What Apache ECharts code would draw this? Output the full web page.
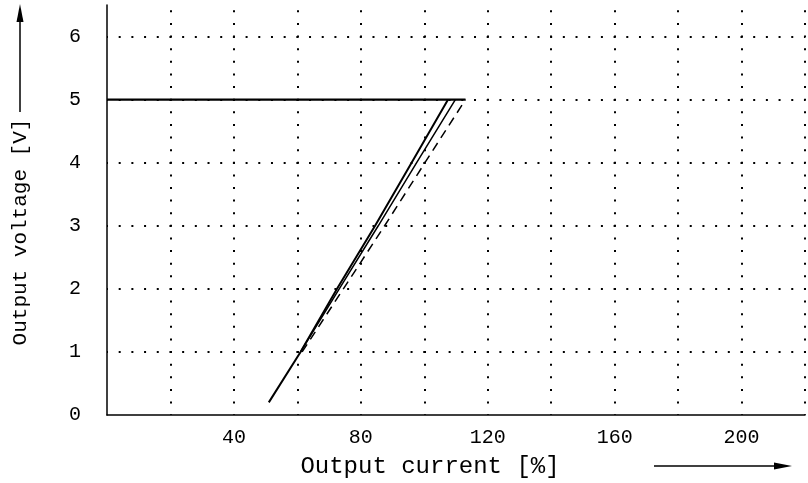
<!DOCTYPE html>
<html>
<head>
<meta charset="utf-8">
<script src="https://cdn.jsdelivr.net/npm/echarts@6/dist/echarts.min.js"></script>
<style>
  html, body { margin: 0; padding: 0; background: #fff; }
  #chart { width: 808px; height: 483px; }
</style>
</head>
<body>
<div id="chart"></div>
<script>
// current limiting curves, [current %, voltage V]
const plateau = [[0, 5], [113, 5]];
const curveA = [[51, 0.2], [61, 1], [72.5, 2], [84.5, 3], [96, 4], [107.5, 5]];
const curveB = [[61, 1], [73.2, 2], [85.5, 3], [97.6, 4], [109.8, 5]];
const curveDashed = [[61.5, 1], [74.5, 2], [87.5, 3], [100.2, 4], [113, 5]];

const xLabels = [40, 80, 120, 160, 200];
const yLabels = [0, 1, 2, 3, 4, 5, 6];

const font = 'Liberation Mono';
const chart = echarts.init(document.getElementById('chart'));

function lineSeries(data, width, type) {
  return {
    type: 'line',
    data: data,
    showSymbol: false,
    animation: false,
    lineStyle: { color: '#000', width: width, type: type || 'solid' }
  };
}

chart.setOption({
  animation: false,
  grid: {
    left: 107,
    right: 3,
    top: 5,
    bottom: 68,
    outerBoundsMode: 'none'
  },
  xAxis: {
    type: 'value',
    min: 0,
    max: 220,
    interval: 20,
    name: 'Output current [%]',
    nameLocation: 'middle',
    nameGap: 40,
    nameTextStyle: { fontFamily: font, fontSize: 24, color: '#000', padding: [0, 52, 0, 0] },
    axisLine: { lineStyle: { color: '#000', width: 1.5 } },
    axisTick: { show: false },
    axisLabel: {
      fontFamily: font,
      fontSize: 20,
      color: '#000',
      margin: 13,
      formatter: v => xLabels.includes(v) ? String(v) : ''
    },
    splitLine: {
      show: true,
      showMinLine: false,
      lineStyle: { color: '#000', width: 2, type: [2, 10.62], dashOffset: 7.3 }
    }
  },
  yAxis: {
    type: 'value',
    min: 0,
    max: 6.5,
    interval: 1,
    name: 'Output voltage [V]',
    nameLocation: 'middle',
    nameGap: 76,
    nameTextStyle: { fontFamily: font, fontSize: 21, color: '#000', padding: [0, 44, 0, 0] },
    axisLine: { lineStyle: { color: '#000', width: 1.5 } },
    axisTick: { show: false },
    axisLabel: {
      fontFamily: font,
      fontSize: 20,
      color: '#000',
      margin: 26,
      formatter: v => yLabels.includes(v) ? String(v) : ''
    },
    splitLine: {
      show: true,
      showMinLine: false,
      showMaxLine: false,
      lineStyle: { color: '#000', width: 2, type: [2, 10.69], dashOffset: 1 }
    }
  },
  series: [
    lineSeries(plateau, 2.2),
    lineSeries(curveA, 2),
    lineSeries(curveB, 1.5),
    lineSeries(curveDashed, 1.5, [9, 6])
  ],
  graphic: [
    // arrow next to the y axis name
    { type: 'line', shape: { x1: 20, y1: 112, x2: 20, y2: 18 }, style: { stroke: '#000', lineWidth: 1.5 } },
    { type: 'polygon', shape: { points: [[20, 4], [16.5, 22], [23.5, 22]] }, style: { fill: '#000' } },
    // arrow next to the x axis name
    { type: 'line', shape: { x1: 654, y1: 466, x2: 778, y2: 466 }, style: { stroke: '#000', lineWidth: 1.5 } },
    { type: 'polygon', shape: { points: [[792, 466], [774, 462.5], [774, 469.5]] }, style: { fill: '#000' } }
  ]
});
</script>
</body>
</html>
